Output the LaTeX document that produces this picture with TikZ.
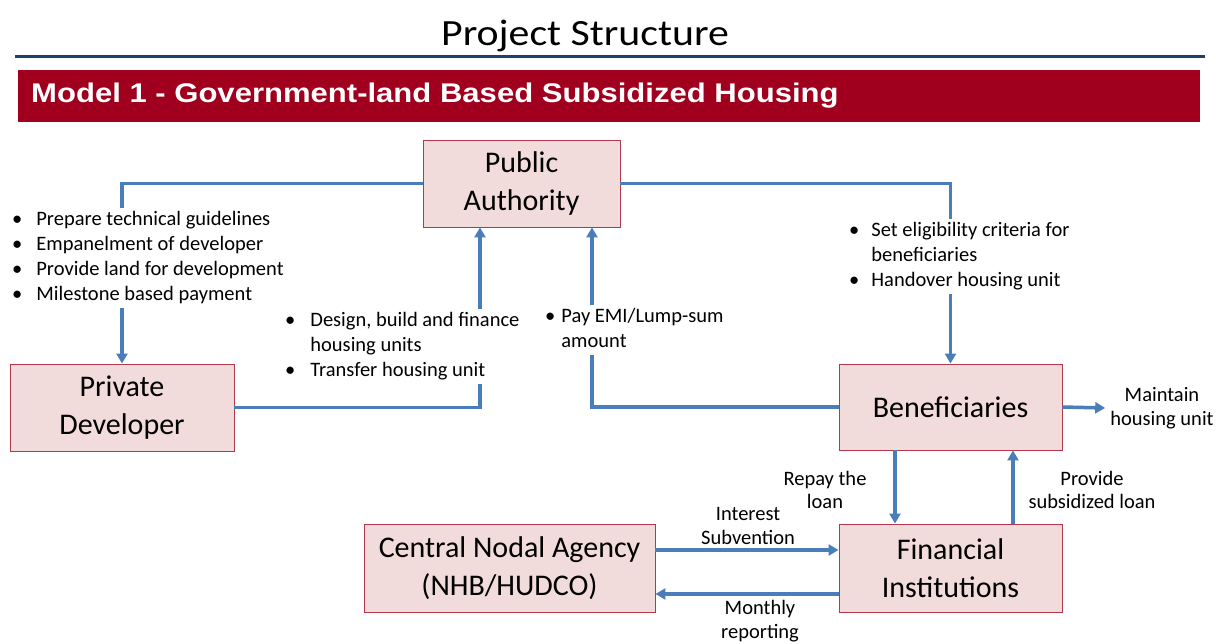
\documentclass[tikz,border=0pt]{standalone}
\usepackage{fontspec}
\setmainfont{Carlito}
\newfontfamily\barfont{Liberation Sans}[FakeStretch=1.15]
\newfontfamily\titlefont{Carlito}[FakeStretch=1.13]
\usetikzlibrary{arrows.meta}
\definecolor{linkblue}{HTML}{4A7EBB}
\definecolor{boxfill}{HTML}{F2DCDB}
\definecolor{boxline}{HTML}{B2384C}
\definecolor{barred}{HTML}{A0001E}
\definecolor{rulenavy}{HTML}{1F3F6E}
\begin{document}
\begin{tikzpicture}[x=1pt,y=-1pt,
	box/.style={draw=boxline, fill=boxfill, line width=0.9pt, align=center, inner sep=0,
		font=\fontsize{30}{38}\selectfont},
	link/.style={draw=linkblue, line width=3.5pt, -{Triangle[length=10pt,width=11pt]}},
	note/.style={inner sep=0, align=center, font=\fontsize{20.5}{23.5}\selectfont},
	list/.style={anchor=base west, inner sep=0, fill=white, font=\fontsize{20.5}{25}\selectfont}]
	\useasboundingbox (0,0) rectangle (1216,643);
	\node (title) at (585,36) {\titlefont\fontsize{37}{42}\selectfont Project Structure};
	\draw [rulenavy, line width=3pt] (15,56) -- (1205,56);
	\fill [barred] (18,70) rectangle (1200,122);
	\node [anchor=west, text=white, inner sep=0] (model) at (31,96)
		{\barfont\bfseries\fontsize{27}{30}\selectfont Model 1 - Government-land Based Subsidized Housing};
	% boxes
	\node [box, minimum width=197, minimum height=87] (pa) at (521.5,183.5) {Public\\Authority};
	\node [box, minimum width=224, minimum height=87] (pd) at (122,407.5) {Private\\Developer};
	\node [box, minimum width=223, minimum height=86] (ben) at (950.5,407) {Beneficiaries};
	\node [box, minimum width=223, minimum height=88] (fin) at (950.5,568) {Financial\\Institutions};
	\node [box, minimum width=291, minimum height=88] (cna) at (509.5,568) {Central Nodal Agency\\(NHB/HUDCO)};
	% connectors
	\draw [link] (pa.west) -| (pd.north);
	\draw [link] (pa.east) -| (ben.north);
	\draw [link] (pd.east) -| ([xshift=-41.5]pa.south);
	\draw [link] (ben.west) -| ([xshift=70.5]pa.south);
	\draw [link] ([xshift=-55.5]ben.south) -- ([xshift=-55.5]fin.north);
	\draw [link] ([xshift=62.5]fin.north) -- ([xshift=62.5]ben.south);
	\draw [link] ([yshift=18]cna.east) -- ([yshift=18]fin.west);
	\draw [link] ([yshift=-26]fin.west) -- ([yshift=-26]cna.east);
	% bullet lists
	\node [list] (tasks) at (12,225) {%
		\begin{tabular}[t]{@{}l@{\hspace{14pt}}l@{}}
		\textbullet & Prepare technical guidelines\\
		\textbullet & Empanelment of developer\\
		\textbullet & Provide land for development\\
		\textbullet & Milestone based payment
		\end{tabular}};
	\node [list] (build) at (285,326) {%
		\begin{tabular}[t]{@{}l@{\hspace{15pt}}l@{}}
		\textbullet & Design, build and finance\\
		 & housing units\\
		\textbullet & Transfer housing unit
		\end{tabular}};
	\node [list] (pay) at (545,322) {%
		\begin{tabular}[t]{@{}l@{\hspace{6pt}}l@{}}
		\textbullet & Pay EMI/Lump-sum\\
		 & amount
		\end{tabular}};
	\node [list] (crit) at (849,236) {%
		\begin{tabular}[t]{@{}l@{\hspace{12pt}}l@{}}
		\textbullet & Set eligibility criteria for\\
		 & beneficiaries\\
		\textbullet & Handover housing unit
		\end{tabular}};
	% labels
	\node [note] (maint) at (1162,408) {Maintain\\housing unit};
	\node [note] (repay) at (825,490) {Repay the\\loan};
	\node [note] (loan) at (1092,490) {Provide\\subsidized loan};
	\node [note] (subv) at (748,526) {Interest\\Subvention};
	\node [note] (report) at (760,621) {Monthly\\reporting};
	\draw [link] (ben.east) -- ([xshift=-5]maint.west);
\end{tikzpicture}
\end{document}
